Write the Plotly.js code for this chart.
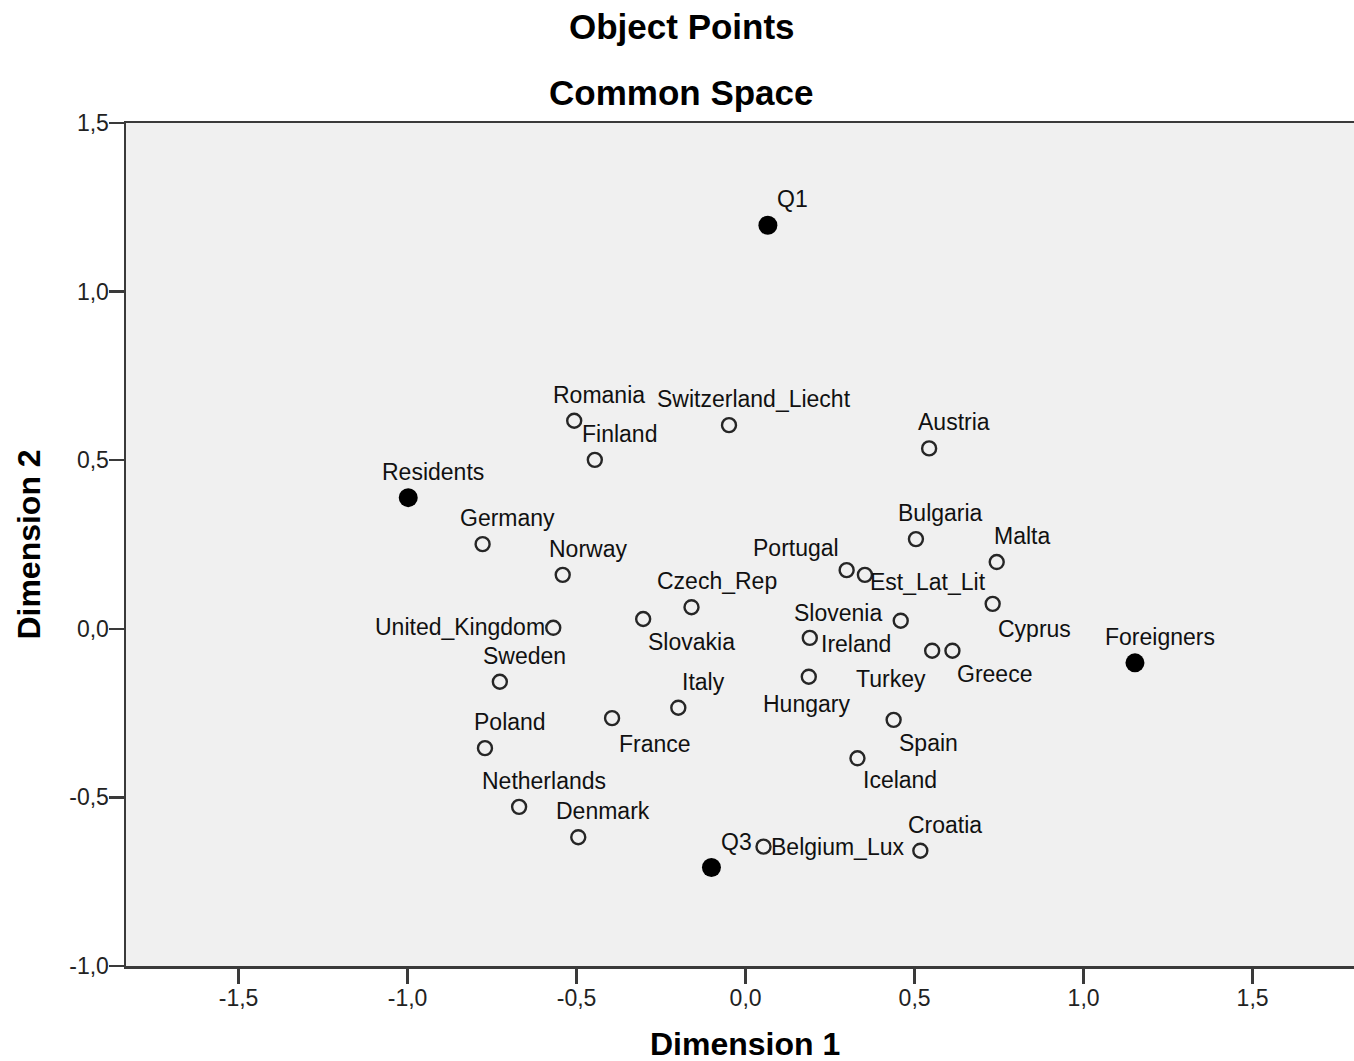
<!DOCTYPE html>
<html>
<head>
<meta charset="utf-8">
<script src="https://cdn.plot.ly/plotly-3.0.1.min.js"></script>
<style>html,body{margin:0;padding:0;background:#fff;}#chart{width:1354px;height:1061px;}</style>
</head>
<body>
<div id="chart"></div>
<script>
// Object points (open circles)
const objectLabels = ["Romania","Switzerland_Liecht","Finland","Austria","Germany","Norway","Bulgaria","Malta",
  "Portugal","Est_Lat_Lit","Czech_Rep","Cyprus","United_Kingdom","Slovakia","Slovenia","Ireland","Turkey","Greece",
  "Hungary","Sweden","Italy","France","Spain","Poland","Iceland","Netherlands","Denmark","Belgium_Lux","Croatia"];
const objectDim1 = [-0.507,-0.049,-0.446,0.543,-0.778,-0.541,0.504,0.743,
  0.299,0.353,-0.160,0.731,-0.569,-0.303,0.459,0.190,0.552,0.612,
  0.187,-0.727,-0.199,-0.395,0.438,-0.771,0.331,-0.670,-0.495,0.053,0.517];
const objectDim2 = [0.617,0.604,0.501,0.535,0.251,0.160,0.266,0.198,
  0.174,0.160,0.064,0.074,0.003,0.029,0.024,-0.027,-0.065,-0.065,
  -0.142,-0.157,-0.234,-0.265,-0.270,-0.354,-0.384,-0.528,-0.618,-0.646,-0.658];

// Supplementary / category points (filled)
const suppLabels = ["Q1","Residents","Foreigners","Q3"];
const suppDim1 = [0.066,-0.998,1.152,-0.101];
const suppDim2 = [1.197,0.389,-0.101,-0.708];

// Tick labels
const xTickVals = [-1.5,-1.0,-0.5,0.0,0.5,1.0,1.5];
const xTickText = ["-1,5","-1,0","-0,5","0,0","0,5","1,0","1,5"];
const yTickVals = [-1.0,-0.5,0.0,0.5,1.0,1.5];
const yTickText = ["-1,0","-0,5","0,0","0,5","1,0","1,5"];

// Label placement (anchor, x shift px, y shift px); default above-right
const defaultPlacement = ["center", 25, 26];
const labelPlacement = {
  "Portugal": ["right", -8, 22],
  "Est_Lat_Lit": ["left", 5, -7],
  "Slovenia": ["right", -19, 8],
  "Ireland": ["left", 11, -6],
  "Cyprus": ["left", 5, -25],
  "Turkey": ["right", -6, -28],
  "Greece": ["left", 5, -23],
  "Spain": ["left", 5, -23],
  "Iceland": ["left", 6, -22],
  "France": ["left", 7, -26],
  "Slovakia": ["left", 5, -23],
  "Belgium_Lux": ["left", 8, 0],
  "United_Kingdom": ["right", -8, 1],
  "Hungary": ["center", -2, -27]
};

const labelFont = {family: "Liberation Sans, Arial, sans-serif", size: 23, color: "#111"};
const annotations = [];
function addLabels(names, xs, ys) {
  names.forEach((n, i) => {
    const p = labelPlacement[n] || defaultPlacement;
    annotations.push({
      x: xs[i], y: ys[i], xref: "x", yref: "y", text: n, showarrow: false,
      xanchor: p[0], yanchor: "middle", xshift: p[1], yshift: p[2],
      font: labelFont, borderpad: 0, borderwidth: 0
    });
  });
}
addLabels(objectLabels, objectDim1, objectDim2);
addLabels(suppLabels, suppDim1, suppDim2);

const titleFont = {family: "Liberation Sans, Arial, sans-serif", size: 35, color: "#000", weight: "bold"};
annotations.push({xref: "paper", yref: "paper", x: 0.4524, y: 1.1144, xanchor: "center", yanchor: "middle",
  text: "<b>Object Points</b>", showarrow: false, font: titleFont});
annotations.push({xref: "paper", yref: "paper", x: 0.4524, y: 1.036, xanchor: "center", yanchor: "middle",
  text: "<b>Common Space</b>", showarrow: false, font: titleFont});

const axisTitleFont = {family: "Liberation Sans, Arial, sans-serif", size: 32, color: "#000", weight: "bold"};
// x-axis title (placed as annotation so it can sit in the lowest margin strip)
annotations.push({xref: "paper", yref: "paper", x: 0.504, y: -0.0925, xanchor: "center", yanchor: "middle",
  text: "<b>Dimension 1</b>", showarrow: false, font: axisTitleFont});

const traces = [
  {
    type: "scatter", mode: "markers", x: objectDim1, y: objectDim2, text: objectLabels,
    marker: {symbol: "circle-open", size: 14, color: "#262626", line: {width: 2.4, color: "#262626"}},
    hoverinfo: "text", showlegend: false
  },
  {
    type: "scatter", mode: "markers", x: suppDim1, y: suppDim2, text: suppLabels,
    marker: {symbol: "circle", size: 19, color: "#000"},
    hoverinfo: "text", showlegend: false
  }
];

const tickFont = {family: "Liberation Sans, Arial, sans-serif", size: 23, color: "#222"};

const layout = {
  width: 1354, height: 1061,
  margin: {l: 126, r: 0, t: 123, b: 95},
  paper_bgcolor: "#ffffff", plot_bgcolor: "#f0f0f0",
  showlegend: false,
  xaxis: {
    range: [-1.833, 1.80], tickvals: xTickVals, ticktext: xTickText,
    showgrid: false, zeroline: false, showline: true, mirror: true,
    linecolor: "#3a3a3a", linewidth: 2.5, ticks: "outside", ticklen: 15, tickwidth: 2.5, tickcolor: "#3a3a3a",
    tickfont: tickFont, automargin: false, ticklabelstandoff: -5
  },
  yaxis: {
    range: [-1.0, 1.5], tickvals: yTickVals, ticktext: yTickText,
    showgrid: false, zeroline: false, showline: true, mirror: false,
    linecolor: "#3a3a3a", linewidth: 2.5, ticks: "outside", ticklen: 15, tickwidth: 2.5, tickcolor: "#3a3a3a",
    tickfont: tickFont, automargin: false, ticklabelstandoff: -5,
    title: {text: "<b>Dimension 2</b>", font: axisTitleFont, standoff: 19}
  },
  annotations: annotations
};

Plotly.newPlot("chart", traces, layout, {displayModeBar: false, staticPlot: true});
</script>
</body>
</html>
